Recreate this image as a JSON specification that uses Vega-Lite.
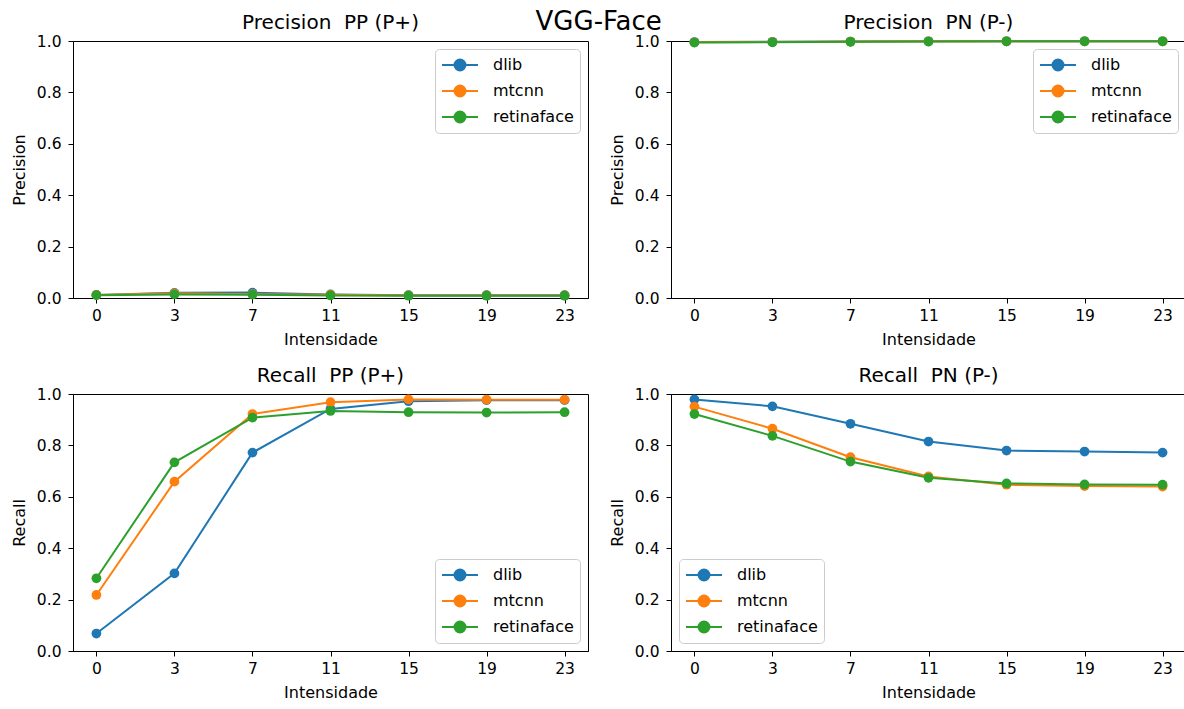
{
  "$schema": "https://vega.github.io/schema/vega-lite/v6.json",
  "background": "white",
  "padding": {"left": 10, "top": 8, "right": 0, "bottom": 2},
  "title": {"text": "VGG-Face", "fontSize": 26, "font": "DejaVu Sans", "fontWeight": "normal", "anchor": "middle", "offset": -22, "color": "black"},
  "spacing": 17,
  "config": {
    "font": "DejaVu Sans",
    "view": {"stroke": "black", "strokeWidth": 1},
    "axis": {"grid": false, "domainColor": "black", "tickColor": "black", "labelColor": "black", "titleColor": "black", "labelFont": "DejaVu Sans", "titleFont": "DejaVu Sans", "labelFontSize": 15.5, "titleFontSize": 16, "titleFontWeight": "normal", "tickSize": 5},
    "axisX": {"labelPadding": 5, "titlePadding": 8},
    "axisY": {"labelPadding": 7, "titlePadding": 9},
    "title": {"font": "DejaVu Sans", "fontSize": 20, "fontWeight": "normal", "color": "black", "offset": 1},
    "legend": {"title": null, "labelFont": "DejaVu Sans", "labelFontSize": 16, "labelColor": "black", "fillColor": "white", "strokeColor": "#cccccc", "cornerRadius": 4, "padding": 6, "offset": 8, "rowPadding": 6, "symbolStrokeWidth": 2, "symbolType": "M-1,0L3,0M1.61,0A0.61,0.61,0,1,1,0.39,0A0.61,0.61,0,1,1,1.61,0Z", "symbolSize": 324, "labelOffset": 32}
  },
  "datasets": {
    "d": [
      {"panel": "ppp", "detector": "dlib", "x": 0, "value": 0.012},
      {"panel": "ppp", "detector": "dlib", "x": 3, "value": 0.02},
      {"panel": "ppp", "detector": "dlib", "x": 7, "value": 0.021},
      {"panel": "ppp", "detector": "dlib", "x": 11, "value": 0.014},
      {"panel": "ppp", "detector": "dlib", "x": 15, "value": 0.011},
      {"panel": "ppp", "detector": "dlib", "x": 19, "value": 0.011},
      {"panel": "ppp", "detector": "dlib", "x": 23, "value": 0.011},
      {"panel": "ppp", "detector": "mtcnn", "x": 0, "value": 0.012},
      {"panel": "ppp", "detector": "mtcnn", "x": 3, "value": 0.018},
      {"panel": "ppp", "detector": "mtcnn", "x": 7, "value": 0.015},
      {"panel": "ppp", "detector": "mtcnn", "x": 11, "value": 0.013},
      {"panel": "ppp", "detector": "mtcnn", "x": 15, "value": 0.01},
      {"panel": "ppp", "detector": "mtcnn", "x": 19, "value": 0.01},
      {"panel": "ppp", "detector": "mtcnn", "x": 23, "value": 0.01},
      {"panel": "ppp", "detector": "retinaface", "x": 0, "value": 0.011},
      {"panel": "ppp", "detector": "retinaface", "x": 3, "value": 0.014},
      {"panel": "ppp", "detector": "retinaface", "x": 7, "value": 0.013},
      {"panel": "ppp", "detector": "retinaface", "x": 11, "value": 0.01},
      {"panel": "ppp", "detector": "retinaface", "x": 15, "value": 0.009},
      {"panel": "ppp", "detector": "retinaface", "x": 19, "value": 0.009},
      {"panel": "ppp", "detector": "retinaface", "x": 23, "value": 0.009},
      {"panel": "ppn", "detector": "dlib", "x": 0, "value": 0.996},
      {"panel": "ppn", "detector": "dlib", "x": 3, "value": 0.997},
      {"panel": "ppn", "detector": "dlib", "x": 7, "value": 0.998},
      {"panel": "ppn", "detector": "dlib", "x": 11, "value": 0.999},
      {"panel": "ppn", "detector": "dlib", "x": 15, "value": 0.999},
      {"panel": "ppn", "detector": "dlib", "x": 19, "value": 0.999},
      {"panel": "ppn", "detector": "dlib", "x": 23, "value": 0.999},
      {"panel": "ppn", "detector": "mtcnn", "x": 0, "value": 0.995},
      {"panel": "ppn", "detector": "mtcnn", "x": 3, "value": 0.996},
      {"panel": "ppn", "detector": "mtcnn", "x": 7, "value": 0.998},
      {"panel": "ppn", "detector": "mtcnn", "x": 11, "value": 0.999},
      {"panel": "ppn", "detector": "mtcnn", "x": 15, "value": 0.999},
      {"panel": "ppn", "detector": "mtcnn", "x": 19, "value": 0.999},
      {"panel": "ppn", "detector": "mtcnn", "x": 23, "value": 0.999},
      {"panel": "ppn", "detector": "retinaface", "x": 0, "value": 0.994},
      {"panel": "ppn", "detector": "retinaface", "x": 3, "value": 0.995},
      {"panel": "ppn", "detector": "retinaface", "x": 7, "value": 0.997},
      {"panel": "ppn", "detector": "retinaface", "x": 11, "value": 0.998},
      {"panel": "ppn", "detector": "retinaface", "x": 15, "value": 0.999},
      {"panel": "ppn", "detector": "retinaface", "x": 19, "value": 0.999},
      {"panel": "ppn", "detector": "retinaface", "x": 23, "value": 0.999},
      {"panel": "rpp", "detector": "dlib", "x": 0, "value": 0.068},
      {"panel": "rpp", "detector": "dlib", "x": 3, "value": 0.302},
      {"panel": "rpp", "detector": "dlib", "x": 7, "value": 0.772},
      {"panel": "rpp", "detector": "dlib", "x": 11, "value": 0.942},
      {"panel": "rpp", "detector": "dlib", "x": 15, "value": 0.972},
      {"panel": "rpp", "detector": "dlib", "x": 19, "value": 0.976},
      {"panel": "rpp", "detector": "dlib", "x": 23, "value": 0.976},
      {"panel": "rpp", "detector": "mtcnn", "x": 0, "value": 0.218},
      {"panel": "rpp", "detector": "mtcnn", "x": 3, "value": 0.659},
      {"panel": "rpp", "detector": "mtcnn", "x": 7, "value": 0.922},
      {"panel": "rpp", "detector": "mtcnn", "x": 11, "value": 0.968},
      {"panel": "rpp", "detector": "mtcnn", "x": 15, "value": 0.979},
      {"panel": "rpp", "detector": "mtcnn", "x": 19, "value": 0.978},
      {"panel": "rpp", "detector": "mtcnn", "x": 23, "value": 0.978},
      {"panel": "rpp", "detector": "retinaface", "x": 0, "value": 0.283},
      {"panel": "rpp", "detector": "retinaface", "x": 3, "value": 0.734},
      {"panel": "rpp", "detector": "retinaface", "x": 7, "value": 0.908},
      {"panel": "rpp", "detector": "retinaface", "x": 11, "value": 0.934},
      {"panel": "rpp", "detector": "retinaface", "x": 15, "value": 0.929},
      {"panel": "rpp", "detector": "retinaface", "x": 19, "value": 0.928},
      {"panel": "rpp", "detector": "retinaface", "x": 23, "value": 0.929},
      {"panel": "rpn", "detector": "dlib", "x": 0, "value": 0.979},
      {"panel": "rpn", "detector": "dlib", "x": 3, "value": 0.952},
      {"panel": "rpn", "detector": "dlib", "x": 7, "value": 0.884},
      {"panel": "rpn", "detector": "dlib", "x": 11, "value": 0.815},
      {"panel": "rpn", "detector": "dlib", "x": 15, "value": 0.78},
      {"panel": "rpn", "detector": "dlib", "x": 19, "value": 0.776},
      {"panel": "rpn", "detector": "dlib", "x": 23, "value": 0.772},
      {"panel": "rpn", "detector": "mtcnn", "x": 0, "value": 0.951},
      {"panel": "rpn", "detector": "mtcnn", "x": 3, "value": 0.865},
      {"panel": "rpn", "detector": "mtcnn", "x": 7, "value": 0.754},
      {"panel": "rpn", "detector": "mtcnn", "x": 11, "value": 0.679},
      {"panel": "rpn", "detector": "mtcnn", "x": 15, "value": 0.647},
      {"panel": "rpn", "detector": "mtcnn", "x": 19, "value": 0.642},
      {"panel": "rpn", "detector": "mtcnn", "x": 23, "value": 0.64},
      {"panel": "rpn", "detector": "retinaface", "x": 0, "value": 0.922},
      {"panel": "rpn", "detector": "retinaface", "x": 3, "value": 0.837},
      {"panel": "rpn", "detector": "retinaface", "x": 7, "value": 0.737},
      {"panel": "rpn", "detector": "retinaface", "x": 11, "value": 0.674},
      {"panel": "rpn", "detector": "retinaface", "x": 15, "value": 0.652},
      {"panel": "rpn", "detector": "retinaface", "x": 19, "value": 0.648},
      {"panel": "rpn", "detector": "retinaface", "x": 23, "value": 0.647}
    ]
  },
  "vconcat": [
    {"spacing": 19, "hconcat": [
      {
        "width": 515, "height": 257,
        "title": "Precision\u00a0 PP (P+)",
        "data": {"name": "d"},
        "transform": [{"filter": "datum.panel == 'ppp'"}],
        "encoding": {
          "x": {"field": "x", "type": "ordinal", "title": "Intensidade", "scale": {"type": "point", "padding": 0.3}, "axis": {"labelAngle": 0}},
          "y": {"field": "value", "type": "quantitative", "title": "Precision", "scale": {"domain": [0, 1]}, "axis": {"values": [0, 0.2, 0.4, 0.6, 0.8, 1.0], "format": ".1f"}},
          "color": {"field": "detector", "type": "nominal", "scale": {"domain": ["dlib", "mtcnn", "retinaface"], "range": ["#1f77b4", "#ff7f0e", "#2ca02c"]}, "legend": {"orient": "top-right"}}
        },
        "layer": [
          {"mark": {"type": "line", "strokeWidth": 2, "clip": false}},
          {"mark": {"type": "circle", "size": 95, "opacity": 1, "clip": false}}
        ]
      },
      {
        "width": 515, "height": 257,
        "title": "Precision\u00a0 PN (P-)",
        "data": {"name": "d"},
        "transform": [{"filter": "datum.panel == 'ppn'"}],
        "encoding": {
          "x": {"field": "x", "type": "ordinal", "title": "Intensidade", "scale": {"type": "point", "padding": 0.3}, "axis": {"labelAngle": 0}},
          "y": {"field": "value", "type": "quantitative", "title": "Precision", "scale": {"domain": [0, 1]}, "axis": {"values": [0, 0.2, 0.4, 0.6, 0.8, 1.0], "format": ".1f"}},
          "color": {"field": "detector", "type": "nominal", "scale": {"domain": ["dlib", "mtcnn", "retinaface"], "range": ["#1f77b4", "#ff7f0e", "#2ca02c"]}, "legend": {"orient": "top-right"}}
        },
        "layer": [
          {"mark": {"type": "line", "strokeWidth": 2, "clip": false}},
          {"mark": {"type": "circle", "size": 95, "opacity": 1, "clip": false}}
        ]
      }
    ], "resolve": {"scale": {"color": "independent"}, "legend": {"color": "independent"}}},
    {"spacing": 19, "hconcat": [
      {
        "width": 515, "height": 257,
        "title": "Recall\u00a0 PP (P+)",
        "data": {"name": "d"},
        "transform": [{"filter": "datum.panel == 'rpp'"}],
        "encoding": {
          "x": {"field": "x", "type": "ordinal", "title": "Intensidade", "scale": {"type": "point", "padding": 0.3}, "axis": {"labelAngle": 0}},
          "y": {"field": "value", "type": "quantitative", "title": "Recall", "scale": {"domain": [0, 1]}, "axis": {"values": [0, 0.2, 0.4, 0.6, 0.8, 1.0], "format": ".1f"}},
          "color": {"field": "detector", "type": "nominal", "scale": {"domain": ["dlib", "mtcnn", "retinaface"], "range": ["#1f77b4", "#ff7f0e", "#2ca02c"]}, "legend": {"orient": "bottom-right"}}
        },
        "layer": [
          {"mark": {"type": "line", "strokeWidth": 2, "clip": false}},
          {"mark": {"type": "circle", "size": 95, "opacity": 1, "clip": false}}
        ]
      },
      {
        "width": 515, "height": 257,
        "title": "Recall\u00a0 PN (P-)",
        "data": {"name": "d"},
        "transform": [{"filter": "datum.panel == 'rpn'"}],
        "encoding": {
          "x": {"field": "x", "type": "ordinal", "title": "Intensidade", "scale": {"type": "point", "padding": 0.3}, "axis": {"labelAngle": 0}},
          "y": {"field": "value", "type": "quantitative", "title": "Recall", "scale": {"domain": [0, 1]}, "axis": {"values": [0, 0.2, 0.4, 0.6, 0.8, 1.0], "format": ".1f"}},
          "color": {"field": "detector", "type": "nominal", "scale": {"domain": ["dlib", "mtcnn", "retinaface"], "range": ["#1f77b4", "#ff7f0e", "#2ca02c"]}, "legend": {"orient": "bottom-left"}}
        },
        "layer": [
          {"mark": {"type": "line", "strokeWidth": 2, "clip": false}},
          {"mark": {"type": "circle", "size": 95, "opacity": 1, "clip": false}}
        ]
      }
    ], "resolve": {"scale": {"color": "independent"}, "legend": {"color": "independent"}}}
  ],
  "resolve": {"scale": {"color": "independent"}, "legend": {"color": "independent"}}
}
